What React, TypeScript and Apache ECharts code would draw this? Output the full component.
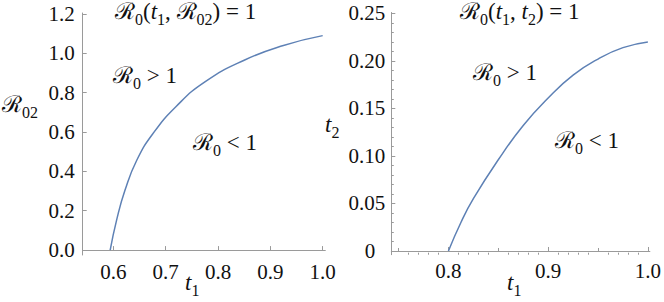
import React, { useEffect, useRef } from "react";
import * as echarts from "echarts";

// ---------- data ----------
const leftT1 = [0.594, 0.6065, 0.6224, 0.645, 0.676, 0.72, 0.775, 0.85, 0.925, 1.0];
const leftR02 = [0, 0.155, 0.305, 0.458, 0.593, 0.73, 0.855, 0.965, 1.04, 1.09];
const rightT1 = [0.8, 0.8125, 0.825, 0.85, 0.875, 0.9, 0.925, 0.95, 0.975, 1.0];
const rightT2 = [0, 0.03, 0.055, 0.096, 0.132, 0.161, 0.185, 0.202, 0.214, 0.22];

const leftXTicks = [0.6, 0.7, 0.8, 0.9, 1.0];
const leftYTicks = [0, 0.2, 0.4, 0.6, 0.8, 1.0, 1.2];
const rightXTicks = [0.8, 0.9, 1.0];
const rightXMedium = [0.75, 0.85, 0.95];
const rightXMinor = [0.76, 0.77, 0.78, 0.79, 0.81, 0.82, 0.83, 0.84, 0.86, 0.87, 0.88, 0.89, 0.91, 0.92, 0.93, 0.94, 0.96, 0.97, 0.98, 0.99];
const rightYTicks = [0, 0.05, 0.1, 0.15, 0.2, 0.25];
const rightYMinor = [0.01, 0.02, 0.03, 0.04, 0.06, 0.07, 0.08, 0.09, 0.11, 0.12, 0.13, 0.14, 0.16, 0.17, 0.18, 0.19, 0.21, 0.22, 0.23, 0.24];

const FONT = "Liberation Serif";
const AXIS_GRAY = "#9a9a9a";
const CURVE = "#5E81B5";
const INK = "#111";

const MAIN = 23;
const SUB = 16;
const tok = (extra: any) => ({ fontFamily: FONT, color: INK, verticalAlign: "top", ...extra });
const rich: any = {
  r: tok({ fontSize: MAIN, height: MAIN }),
  n: tok({ fontSize: MAIN, height: MAIN }),
  i: tok({ fontSize: MAIN, height: MAIN, fontStyle: "italic" }),
  s: tok({ fontSize: SUB, height: SUB, padding: [11, 0, 0, 0] }),
};

function mathText(text: string, x: number, y: number) {
  return {
    type: "text",
    x,
    y,
    style: { text, rich, fontFamily: FONT, fontSize: MAIN, fill: INK, textAlign: "left", textVerticalAlign: "top" },
  };
}

function pairs(xs: number[], ys: number[]) {
  return xs.map((v, k) => [v, ys[k]]);
}

const labelStyle = { fontFamily: FONT, fontSize: 21, color: INK };

export default function App() {
  const ref = useRef<HTMLDivElement>(null);
  useEffect(() => {
    if (!ref.current) return;
    const chart = echarts.init(ref.current, undefined, { renderer: "svg" });
    const lineStyle = { color: AXIS_GRAY, width: 1 };
    const option: any = {
      animation: false,
      backgroundColor: "#fff",
      textStyle: { fontFamily: FONT },
      grid: [
        { left: 82.7, top: 13, width: 242.6, height: 242 },
        { left: 391.3, top: 12.5, width: 265.7, height: 242.2 },
      ],
      xAxis: [
        {
          gridIndex: 0, type: "value", position: "bottom", min: 0.5415, max: 1.005,
          axisLine: { show: true, lineStyle },
          axisTick: { show: true, inside: true, length: 4, lineStyle, customValues: leftXTicks },
          axisLabel: { ...labelStyle, margin: 6, customValues: leftXTicks, formatter: (v: number) => v.toFixed(1) },
          splitLine: { show: false },
        },
        {
          gridIndex: 1, type: "value", position: "bottom", min: 0.7427, max: 1.002,
          axisLine: { show: true, lineStyle },
          axisTick: { show: true, inside: true, length: 4, lineStyle, customValues: rightXTicks },
          axisLabel: { ...labelStyle, margin: 6, customValues: rightXTicks, formatter: (v: number) => v.toFixed(1) },
          splitLine: { show: false },
        },
        {
          gridIndex: 1, type: "value", position: "bottom", min: 0.7427, max: 1.002,
          axisLine: { show: false },
          axisTick: { show: true, inside: true, length: 3, lineStyle, customValues: rightXMedium },
          axisLabel: { show: false },
          splitLine: { show: false },
        },
        {
          gridIndex: 1, type: "value", position: "bottom", min: 0.7427, max: 1.002,
          axisLine: { show: false },
          axisTick: { show: true, inside: true, length: 2, lineStyle, customValues: rightXMinor },
          axisLabel: { show: false },
          splitLine: { show: false },
        },
      ],
      yAxis: [
        {
          gridIndex: 0, type: "value", position: "left", min: -0.025, max: 1.205,
          axisLine: { show: true, lineStyle },
          axisTick: { show: true, inside: true, length: 4, lineStyle, customValues: leftYTicks },
          axisLabel: { ...labelStyle, margin: 8, customValues: leftYTicks, formatter: (v: number) => v.toFixed(1) },
          splitLine: { show: false },
        },
        {
          gridIndex: 1, type: "value", position: "left", min: -0.0039, max: 0.251,
          axisLine: { show: true, lineStyle },
          axisTick: { show: true, inside: true, length: 4, lineStyle, customValues: rightYTicks },
          axisLabel: {
            ...labelStyle, margin: 6, customValues: rightYTicks,
            formatter: (v: number) => (Math.abs(v) < 1e-9 ? "{z|0}" : v.toFixed(2)),
            rich: { z: { fontFamily: FONT, fontSize: 21, color: INK, padding: [0, 10, 0, 0] } },
          },
          splitLine: { show: false },
        },
        {
          gridIndex: 1, type: "value", position: "left", min: -0.0039, max: 0.251,
          axisLine: { show: false },
          axisTick: { show: true, inside: true, length: 2.5, lineStyle, customValues: rightYMinor },
          axisLabel: { show: false },
          splitLine: { show: false },
        },
      ],
      series: [
        {
          type: "line", xAxisIndex: 0, yAxisIndex: 0, data: pairs(leftT1, leftR02),
          showSymbol: false, smooth: 0.5,
          lineStyle: { color: CURVE, width: 1.5 },
        },
        {
          type: "line", xAxisIndex: 1, yAxisIndex: 1, data: pairs(rightT1, rightT2),
          showSymbol: false, smooth: 0.5,
          lineStyle: { color: CURVE, width: 1.5 },
        },
      ],
      graphic: [
        mathText("{r|ℛ}{s|0}{n|(}{i|t}{s|1}{n|, }{r|ℛ}{s|02}{n|) = 1}", 115, 0),
        mathText("{r|ℛ}{s|0}{n| > 1}", 113, 64),
        mathText("{r|ℛ}{s|0}{n| < 1}", 193, 131),
        mathText("{r|ℛ}{s|02}", 2, 93),
        mathText("{i|t}{s|1}", 185, 271),
        mathText("{r|ℛ}{s|0}{n|(}{i|t}{s|1}{n|, }{i|t}{s|2}{n|) = 1}", 460, 0),
        mathText("{r|ℛ}{s|0}{n| > 1}", 473, 61),
        mathText("{r|ℛ}{s|0}{n| < 1}", 555, 129),
        mathText("{i|t}{s|2}", 325, 113),
        mathText("{i|t}{s|1}", 507, 271),
      ],
    };
    chart.setOption(option);
    return () => chart.dispose();
  }, []);
  return (
    <div
      ref={ref}
      style={{ position: "absolute", left: 0, top: 0, width: 664, height: 302 }}
    />
  );
}
